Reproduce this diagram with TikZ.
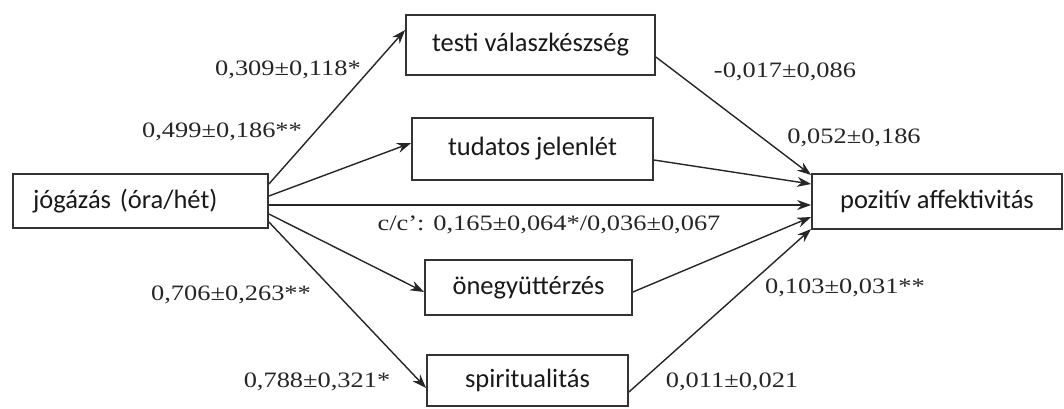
\documentclass[tikz,border=0pt]{standalone}
\usepackage{fontspec}
\setmainfont{Liberation Serif}
\newfontfamily\boxfont{Carlito}
\newfontfamily\labfont[FakeStretch=1.2]{Liberation Serif}
\usetikzlibrary{arrows.meta}
\begin{document}
\begin{tikzpicture}[x=1pt,y=-1pt,
  box/.style={draw=black!80, line width=1.8pt, fill=white, inner sep=0pt,
    font=\boxfont\fontsize{26.5}{29}\selectfont, text=black!90},
  conn/.style={draw=black!85, line width=1.4pt, -{Stealth[length=14pt,width=10pt]}},
  lab/.style={font=\labfont\fontsize{22}{24}\selectfont, text=black!85, inner sep=0pt}]
\useasboundingbox (0,0) rectangle (1064,408);
\fill[white] (0,0) rectangle (1064,408);
% boxes
\node[box, minimum width=249pt, minimum height=60pt] (testi) at (530.5,45) {testi válaszkészség};
\node[box, minimum width=241pt, minimum height=62pt] (tud) at (532.5,149) {tudatos jelenlét};
\node[box, minimum height=54pt, inner xsep=20pt, text width=215pt, align=left] (jog) at (140.5,201) {jógázás (óra/hét)};
\node[box, minimum width=250pt, minimum height=55pt] (poz) at (937,201.5) {pozitív affektivitás};
\node[box, minimum width=207pt, minimum height=55pt] (oneg) at (528.5,287.5) {önegyüttérzés};
\node[box, minimum width=201pt, minimum height=51pt] (spir) at (527.5,380.5) {spiritualitás};
% connectors
\draw[conn] (jog.east |- {(0,184)}) -- (testi.west |- {(0,30)});
\draw[conn] (jog.east |- {(0,196)}) -- (tud.west |- {(0,143)});
\draw[conn] (jog.east |- {(0,205)}) -- (poz.west |- {(0,205)});
\draw[conn] (jog.east |- {(0,214)}) -- (oneg.west |- {(0,292)});
\draw[conn] (jog.east |- {(0,222)}) -- (spir.west |- {(0,388)});
\draw[conn] (testi.east |- {(0,57)}) -- (poz.west |- {(0,175)});
\draw[conn] (tud.east |- {(0,160)}) -- (poz.west |- {(0,184)});
\draw[conn] (oneg.east |- {(0,292)}) -- (poz.west |- {(0,217)});
\draw[conn] (spir.east |- {(0,392)}) -- (poz.west |- {(0,229)});
% labels
\node[lab] (l1) at (288,70) {0,309±0,118*};
\node[lab] (l2) at (222,132) {0,499±0,186**};
\node[lab] (l3) at (785,72) {-0,017±0,086};
\node[lab] (l4) at (854,138) {0,052±0,186};
\node[lab] (l5) at (549,225) {c/c’: 0,165±0,064*/0,036±0,067};
\node[lab] (l6) at (231,295) {0,706±0,263**};
\node[lab] (l7) at (317,382) {0,788±0,321*};
\node[lab] (l8) at (845,288) {0,103±0,031**};
\node[lab] (l9) at (732,382) {0,011±0,021};
\end{tikzpicture}
\end{document}
